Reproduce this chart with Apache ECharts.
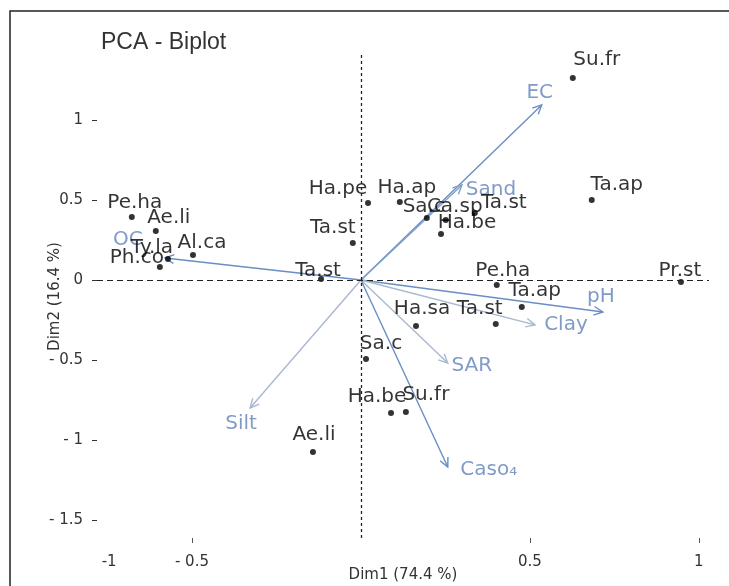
<!DOCTYPE html>
<html>
<head>
<meta charset="utf-8">
<script src="https://cdn.jsdelivr.net/npm/echarts@6/dist/echarts.min.js"></script>
<style>
  html, body { margin: 0; padding: 0; background: #fff; }
  #chart { width: 729px; height: 586px; }
</style>
</head>
<body>
<div id="chart"></div>
<script>
// ---- data ----
const sampleNames = ['Su.fr','Ta.ap','Ha.pe','Ha.ap','Sa.c','Ca.sp','Ta.st','Ha.be','Pe.ha','Ae.li','Al.ca','Ty.la','Ph.co','Ta.st','Ta.st','Pe.ha','Pr.st','Ta.ap','Ta.st','Ha.sa','Sa.c','Ha.be','Su.fr','Ae.li'];
const sampleDim1 = [0.627, 0.683, 0.021, 0.115, 0.195, 0.251, 0.337, 0.237, -0.678, -0.607, -0.497, -0.571, -0.595, -0.024, -0.118, 0.402, 0.947, 0.476, 0.399, 0.163, 0.015, 0.089, 0.133, -0.142];
const sampleDim2 = [1.263, 0.500, 0.481, 0.488, 0.388, 0.375, 0.419, 0.288, 0.394, 0.306, 0.156, 0.131, 0.081, 0.231, 0.006, -0.031, -0.013, -0.169, -0.275, -0.288, -0.494, -0.831, -0.825, -1.075];

const varNames = ['EC','Sand','OC','pH','Clay','SAR','Caso₄','Silt'];
const varDim1 = [0.535, 0.299, -0.580, 0.716, 0.515, 0.257, 0.257, -0.328];
const varDim2 = [1.094, 0.594, 0.1375, -0.200, -0.281, -0.519, -1.169, -0.800];

const xTickValues = [-0.5, 0.5, 1];
const xLabelValues = [-0.745, -0.5, 0.5, 1];
const xLabelTexts = ['-1', '- 0.5', '0.5', '1'];
const yTickValues = [-1.5, -1, -0.5, 0, 0.5, 1];
const yLabelTexts = ['- 1.5', '- 1', '- 0.5', '0', '0.5', '1'];

// ---- styling (label placement in pixels, colours) ----
const sampleLabelOffsets = [[24,-18],[25,-15],[-30,-14],[7,-14],[-3,-11],[9,-13],[29,-10],[26,-11],[3,-14],[13,-13],[9,-12],[-16,-11],[-23,-9],[-20,-15],[-3,-8],[6,-14],[-1,-11],[13,-16],[-16,-15],[6,-17],[15,-15],[-14,-16],[20,-17],[1,-17]];
const varLabelOffsets = [[-2,-12],[29,5],[-37,-18],[-2,-15],[31,0],[24,3],[41,3],[-9,16]];
const varArrowColors = ['#6a8ec4','#7f9fcc','#6a8ec4','#6a8ec4','#a9b8d0','#a9b8d0','#6a8ec4','#a9b8d0'];
const varLabelColor = '#809bc8';
const FONT = 'DejaVu Sans';

const chart = echarts.init(document.getElementById('chart'), null, { renderer: 'canvas' });

const samplePoints = sampleNames.map((n, i) => ({ value: [sampleDim1[i], sampleDim2[i]], name: n }));
const varData = varNames.map((n, i) => [varDim1[i], varDim2[i], i]);

const option = {
  animation: false,
  backgroundColor: '#fff',
  title: {
    text: 'PCA - Biplot',
    left: 96, top: 26,
    textStyle: { fontFamily: 'Liberation Sans', fontSize: 23, fontWeight: 'normal', color: '#333' }
  },
  graphic: [{
    type: 'polyline',
    shape: { points: [[10, 590], [10, 11], [735, 11]] },
    style: { stroke: '#222', lineWidth: 1.5, fill: null },
    silent: true
  }],
  grid: { left: 97, right: 20, top: 55, bottom: 48, outerBoundsMode: 'none' },
  xAxis: {
    type: 'value', min: -0.781, max: 1.03,
    name: 'Dim1 (74.4 %)', nameLocation: 'middle', nameGap: 30, nameMoveOverlap: false,
    nameTextStyle: { fontFamily: FONT, fontSize: 15, color: '#333' },
    axisLine: { show: false, onZero: false },
    splitLine: { show: false },
    axisTick: { show: true, customValues: xTickValues, length: 5, lineStyle: { color: '#555' } },
    axisLabel: {
      customValues: xLabelValues, margin: 17,
      fontFamily: FONT, fontSize: 15, color: '#333',
      formatter: v => { const k = xLabelValues.findIndex(t => Math.abs(t - v) < 1e-6); return k >= 0 ? xLabelTexts[k] : ''; }
    }
  },
  yAxis: {
    type: 'value', min: -1.6125, max: 1.406,
    name: 'Dim2 (16.4 %)', nameLocation: 'middle', nameGap: 34, nameMoveOverlap: false,
    nameTextStyle: { fontFamily: FONT, fontSize: 15, color: '#333' },
    axisLine: { show: false, onZero: false },
    splitLine: { show: false },
    axisTick: { show: true, customValues: yTickValues, length: 5, lineStyle: { color: '#333' } },
    axisLabel: {
      customValues: yTickValues, margin: 14,
      fontFamily: FONT, fontSize: 15, color: '#333',
      formatter: v => { const k = yTickValues.findIndex(t => Math.abs(t - v) < 1e-6); return k >= 0 ? yLabelTexts[k] : ''; }
    }
  },
  series: [
    {
      type: 'custom',
      name: 'variables',
      z: 2,
      data: varData,
      renderItem: (params, api) => {
        const i = api.value(2);
        const o = api.coord([0, 0]);
        const t = api.coord([api.value(0), api.value(1)]);
        const ang = Math.atan2(t[1] - o[1], t[0] - o[0]);
        const L = 10, A = Math.PI / 7;
        const p1 = [t[0] - L * Math.cos(ang - A), t[1] - L * Math.sin(ang - A)];
        const p2 = [t[0] - L * Math.cos(ang + A), t[1] - L * Math.sin(ang + A)];
        const col = varArrowColors[i];
        const off = varLabelOffsets[i];
        return {
          type: 'group',
          children: [
            { type: 'line', shape: { x1: o[0], y1: o[1], x2: t[0], y2: t[1] }, style: { stroke: col, lineWidth: 1.4 } },
            { type: 'polyline', shape: { points: [p1, t, p2] }, style: { stroke: col, lineWidth: 1.4, fill: null } },
            { type: 'text', style: { text: varNames[i], x: t[0] + off[0], y: t[1] + off[1], fill: varLabelColor, font: '20px "' + FONT + '"', align: 'center', verticalAlign: 'middle' } }
          ]
        };
      },
      markLine: {
        silent: true,
        symbol: ['none', 'none'],
        label: { show: false },
        data: [
          { xAxis: 0, lineStyle: { type: [3, 3], color: '#222', width: 1.3 } },
          { yAxis: 0, lineStyle: { type: [6, 4], color: '#222', width: 1.2 } }
        ]
      }
    },
    {
      type: 'scatter',
      name: 'samples',
      z: 3,
      symbol: 'circle',
      symbolSize: 6,
      itemStyle: { color: '#000' },
      data: samplePoints,
      label: {
        show: true,
        position: 'inside',
        formatter: p => p.name,
        fontFamily: FONT, fontSize: 20, color: '#000',
        align: 'center', verticalAlign: 'middle'
      },
      labelLayout: params => ({
        dx: sampleLabelOffsets[params.dataIndex][0],
        dy: sampleLabelOffsets[params.dataIndex][1],
        hideOverlap: false
      })
    }
  ]
};
chart.setOption(option);
</script>
</body>
</html>
